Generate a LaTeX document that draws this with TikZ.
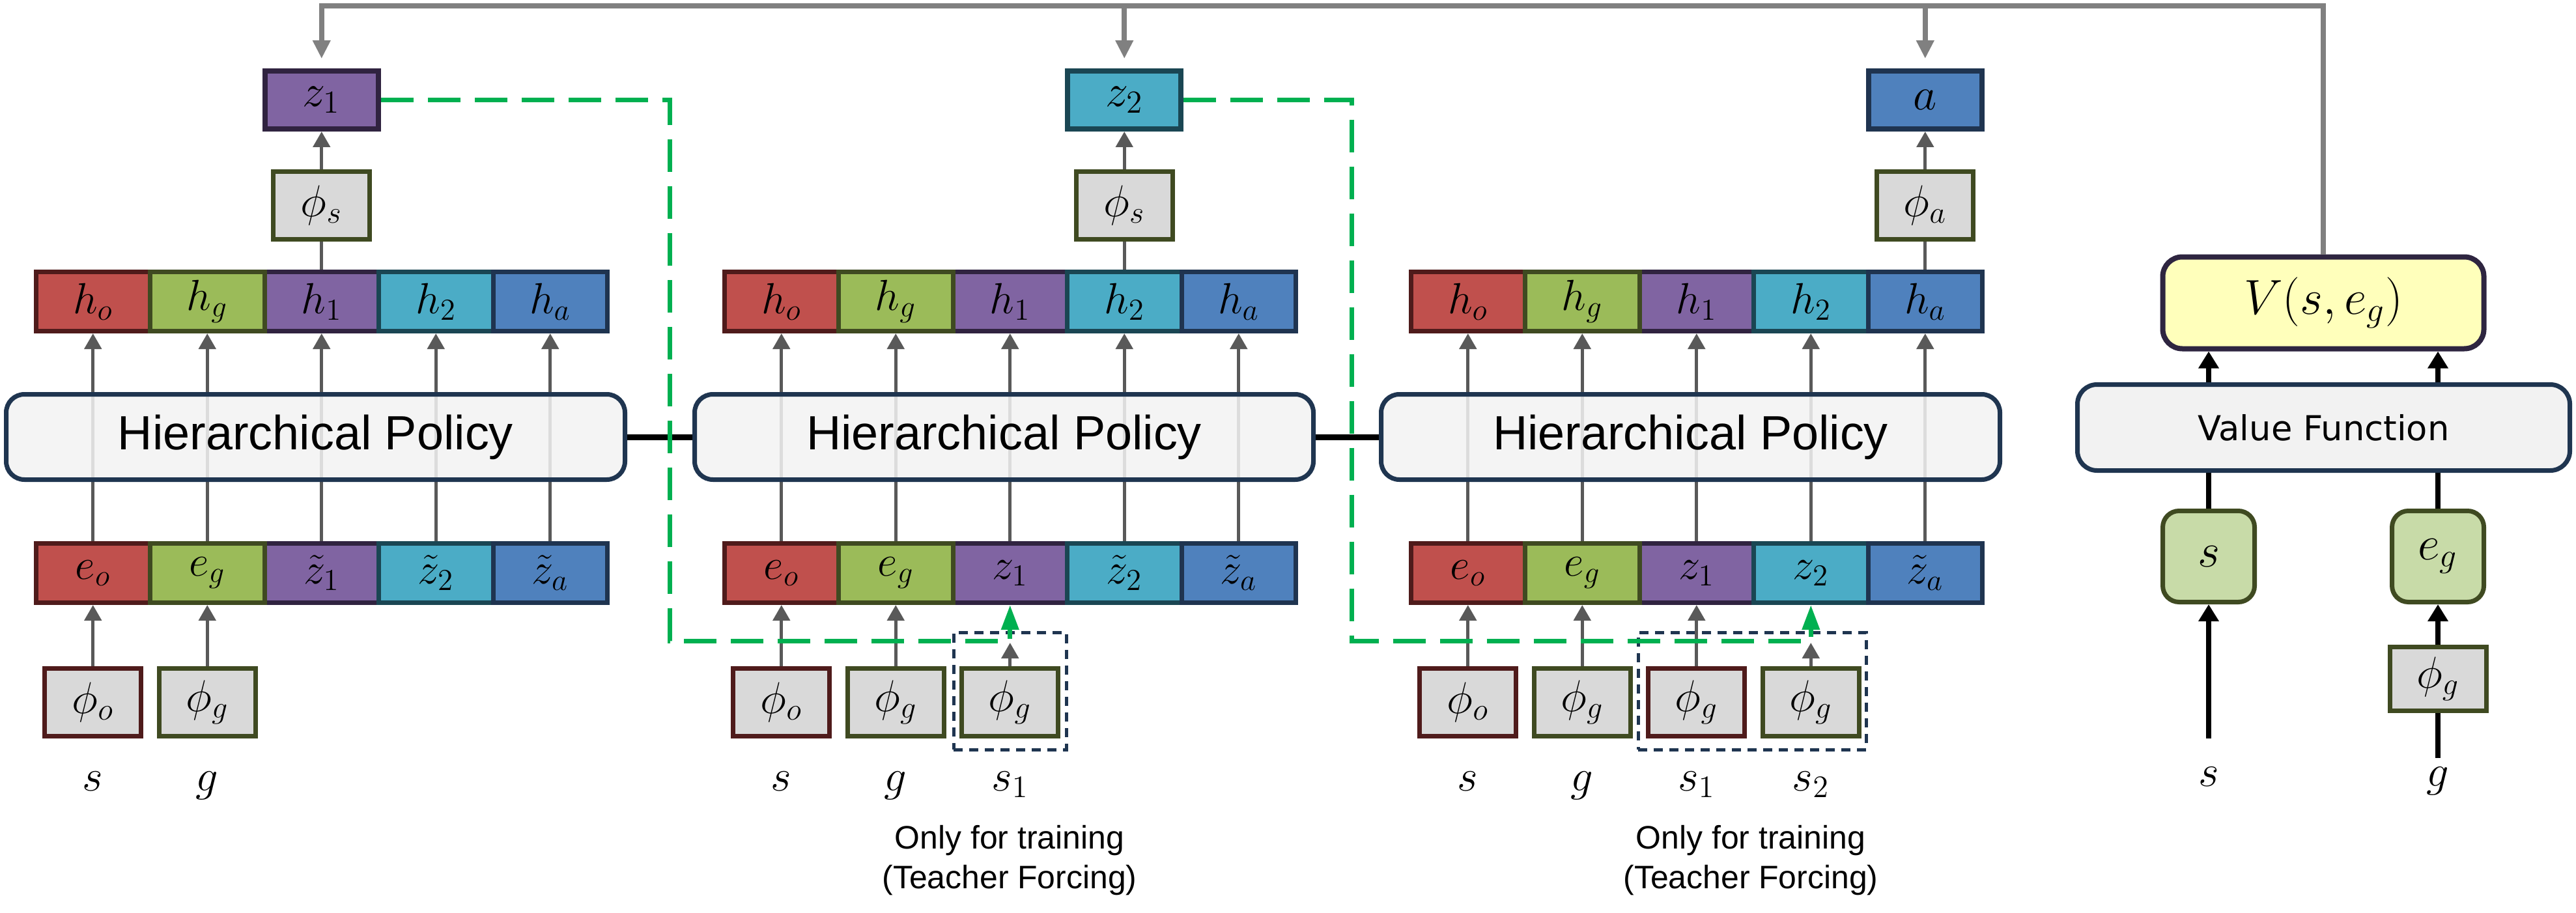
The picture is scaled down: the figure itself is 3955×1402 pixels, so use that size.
\RequirePackage{fix-cm}
\documentclass[tikz,border=0pt]{standalone}
\usepackage[no-math]{fontspec}
\newfontfamily\hpfont{Liberation Sans}
\newfontfamily\vffont{DejaVu Sans}
\usetikzlibrary{arrows.meta}
\definecolor{fred}{HTML}{C0504D}\definecolor{bred}{HTML}{4F1B1B}
\definecolor{fgrn}{HTML}{9BBB59}\definecolor{bgrn}{HTML}{3F4A21}
\definecolor{fpur}{HTML}{8064A2}\definecolor{bpur}{HTML}{302340}
\definecolor{ftea}{HTML}{4BACC6}\definecolor{btea}{HTML}{1A4653}
\definecolor{fblu}{HTML}{4F81BD}\definecolor{bblu}{HTML}{1F3450}
\definecolor{phifill}{HTML}{D9D9D9}
\definecolor{hpfill}{HTML}{F2F2F2}\definecolor{bnavy}{HTML}{1F3550}
\definecolor{vyel}{HTML}{FFFFBB}\definecolor{vbord}{HTML}{2E2540}
\definecolor{sfill}{HTML}{C8DBA8}
\definecolor{arrgray}{HTML}{595959}\definecolor{routegray}{HTML}{808080}
\definecolor{gdash}{HTML}{00B050}
\newcommand\myrow[8]{%
 \node[cell,fill=fpur,draw=bpur] (#1c) at ({#2+438.75},#3) {$#6$};
 \node[cell,fill=fred,draw=bred] (#1a) at ({#2+87.75},#3) {$#4$};
 \node[cell,fill=fgrn,draw=bgrn] (#1b) at ({#2+263.25},#3) {$#5$};
 \node[cell,fill=ftea,draw=btea] (#1d) at ({#2+614.25},#3) {$#7$};
 \node[cell,fill=fblu,draw=bblu] (#1e) at ({#2+789.75},#3) {$#8$};}
\begin{document}
\begin{tikzpicture}[x=0.1mm,y=-0.1mm,
  cell/.style={rectangle,inner sep=0pt,minimum width=17.55mm,minimum height=9.1mm,line width=0.7mm,font=\fontsize{19}{21}\selectfont},
  zbox/.style={rectangle,inner sep=0pt,minimum width=17.4mm,minimum height=8.9mm,line width=0.8mm,font=\fontsize{20}{22}\selectfont},
  phibox/.style={rectangle,inner sep=0pt,minimum width=14.8mm,minimum height=10.4mm,line width=0.7mm,fill=phifill,font=\fontsize{19.5}{22}\selectfont},
  hp/.style={rectangle,rounded corners=2.8mm,minimum width=95mm,minimum height=13.1mm,line width=0.7mm,draw=bnavy,fill=hpfill,fill opacity=0.86,text opacity=1,font=\hpfont\fontsize{21}{24}\selectfont},
  lab/.style={anchor=base,inner sep=0pt,font=\fontsize{19.5}{21}\selectfont},
  note/.style={align=center,inner sep=0pt,font=\hpfont\fontsize{14.2}{17.4}\selectfont},
  tfbox/.style={rectangle,draw=bnavy,line width=0.5mm,dash pattern=on 1.4mm off 1mm},
  garrow/.style={draw=arrgray,line width=0.5mm,-{Triangle[length=2.4mm,width=2.6mm]}},
  gline/.style={draw=arrgray,line width=0.5mm},
  route/.style={draw=routegray,line width=0.8mm,-{Triangle[length=2.8mm,width=2.6mm]},shorten >=1.5mm},
  gd/.style={draw=gdash,line width=0.7mm,dash pattern=on 5mm off 2.2mm,-{Triangle[length=3.8mm,width=2.6mm]}},
  blk/.style={draw=black,line width=0.9mm},
  barrow/.style={draw=black,line width=0.8mm,-{Triangle[length=2.6mm,width=3mm]}},
  bline/.style={draw=black,line width=0.8mm}]
\useasboundingbox (0,0) rectangle (3955,1402);

% rows
\myrow{h1}{55}{463}{h_o}{h_g}{h_1}{h_2}{h_a}
\myrow{e1}{55}{880}{e_o}{e_g}{\tilde z_1}{\tilde z_2}{\tilde z_a}
\myrow{h2}{1112}{463}{h_o}{h_g}{h_1}{h_2}{h_a}
\myrow{e2}{1112}{880}{e_o}{e_g}{z_1}{\tilde z_2}{\tilde z_a}
\myrow{h3}{2166}{463}{h_o}{h_g}{h_1}{h_2}{h_a}
\myrow{e3}{2166}{880}{e_o}{e_g}{z_1}{z_2}{\tilde z_a}

\foreach \c in {1,2,3}{\foreach \k in {a,b,c,d,e}{\draw[garrow] (e\c\k.north) -- (h\c\k.south);}}

% hierarchical policy boxes
\node[hp] (hp1) at (484.5,671) {Hierarchical Policy};
\node[hp] (hp2) at (1541.5,671) {Hierarchical Policy};
\node[hp] (hp3) at (2595.5,671) {Hierarchical Policy};
\draw[blk] (hp1.east) -- (hp2.west);
\draw[blk] (hp2.east) -- (hp3.west);

% upper heads
\node[phibox,draw=bgrn] (ps1) at (493.75,315.5) {$\phi_s$};
\node[phibox,draw=bgrn] (ps2) at (1726.25,315.5) {$\phi_s$};
\node[phibox,draw=bgrn] (pa3) at (2955.75,315.5) {$\phi_a$};
\node[zbox,fill=fpur,draw=bpur] (z1) at (493.75,153.5) {$z_1$};
\node[zbox,fill=ftea,draw=btea] (z2) at (1726.25,153.5) {$z_2$};
\node[zbox,fill=fblu,draw=bblu] (za) at (2955.75,153.5) {$a$};
\draw[gline] (h1c.north) -- (ps1.south);
\draw[gline] (h2d.north) -- (ps2.south);
\draw[gline] (h3e.north) -- (pa3.south);
\draw[garrow] (ps1.north) -- (z1.south);
\draw[garrow] (ps2.north) -- (z2.south);
\draw[garrow] (pa3.north) -- (za.south);

% inputs column 1
\node[phibox,draw=bred] (p1a) at (142.75,1078.5) {$\phi_o$};
\node[phibox,draw=bgrn] (p1b) at (318.25,1078.5) {$\phi_g$};
\node[lab] (l1a) at (142.75,1214) {$s$};
\node[lab] (l1b) at (318.25,1214) {$g$};
\draw[garrow] (p1a.north) -- (e1a.south);
\draw[garrow] (p1b.north) -- (e1b.south);

% inputs column 2
\node[tfbox,minimum width=17.3mm,minimum height=18mm] (tf2) at (1550.5,1061) {};
\node[phibox,draw=bred] (p2a) at (1199.75,1078.5) {$\phi_o$};
\node[phibox,draw=bgrn] (p2b) at (1375.25,1078.5) {$\phi_g$};
\node[phibox,draw=bgrn] (p2c) at (1550.75,1078.5) {$\phi_g$};
\node[lab] (l2a) at (1199.75,1214) {$s$};
\node[lab] (l2b) at (1375.25,1214) {$g$};
\node[lab] (l2c) at (1550.75,1214) {$s_1$};
\node[note] (n2) at (1550,1321) {Only for training\\(Teacher Forcing)};
\draw[garrow] (p2a.north) -- (e2a.south);
\draw[garrow] (p2b.north) -- (e2b.south);

% inputs column 3
\node[tfbox,minimum width=35mm,minimum height=18mm] (tf3) at (2690,1061) {};
\node[phibox,draw=bred] (p3a) at (2253.75,1078.5) {$\phi_o$};
\node[phibox,draw=bgrn] (p3b) at (2429.25,1078.5) {$\phi_g$};
\node[phibox,draw=bred] (p3c) at (2604.75,1078.5) {$\phi_g$};
\node[phibox,draw=bgrn] (p3d) at (2780.25,1078.5) {$\phi_g$};
\node[lab] (l3a) at (2253.75,1214) {$s$};
\node[lab] (l3b) at (2429.25,1214) {$g$};
\node[lab] (l3c) at (2604.75,1214) {$s_1$};
\node[lab] (l3d) at (2780.25,1214) {$s_2$};
\node[note] (n3) at (2688,1321) {Only for training\\(Teacher Forcing)};
\draw[garrow] (p3a.north) -- (e3a.south);
\draw[garrow] (p3b.north) -- (e3b.south);
\draw[garrow] (p3c.north) -- (e3c.south);

% green teacher-forcing routes
\coordinate (r1a) at (1028,153.5);
\coordinate (r1b) at (1028,984);
\coordinate (r2a) at (2075,153.5);
\coordinate (r2b) at (2075,984);
\draw[gd] (z1.east) -- (r1a) -- (r1b) -- (r1b -| e2c.south) -- (e2c.south);
\draw[gd] (z2.east) -- (r2a) -- (r2b) -- (r2b -| e3d.south) -- (e3d.south);
\draw[garrow,shorten >=0.3mm] (p2c.north) -- (p2c.north |- r1b);
\draw[garrow,shorten >=0.3mm] (p3d.north) -- (p3d.north |- r2b);

% value function
\node[rectangle,rounded corners=3mm,minimum width=49.3mm,minimum height=14.1mm,line width=0.8mm,draw=vbord,fill=vyel,font=\fontsize{21.5}{23}\selectfont] (V) at (3567,465) {$V(s,e_g)$};
\node[rectangle,rounded corners=3mm,minimum width=75.6mm,minimum height=13.2mm,line width=0.7mm,draw=bnavy,fill=hpfill,font=\vffont\fontsize{15}{18}\selectfont] (VF) at (3567.5,656.5) {Value Function};
\node[rectangle,rounded corners=2.5mm,minimum width=14.1mm,minimum height=14mm,line width=0.7mm,draw=bgrn,fill=sfill,font=\fontsize{21}{23}\selectfont] (sb) at (3391,854.5) {$s$};
\node[rectangle,rounded corners=2.5mm,minimum width=14.1mm,minimum height=14mm,line width=0.7mm,draw=bgrn,fill=sfill,font=\fontsize{21}{23}\selectfont] (eb) at (3743,854.5) {$e_g$};
\node[phibox,draw=bgrn,minimum height=9.8mm] (p4) at (3743,1042.5) {$\phi_g$};
\node[lab] (l4a) at (3391,1207) {$s$};
\node[lab] (l4b) at (3743,1207) {$g$};
\draw[barrow] (sb.north |- VF.north) -- (sb.north |- V.south);
\draw[barrow] (eb.north |- VF.north) -- (eb.north |- V.south);
\draw[bline] (sb.north) -- (sb.north |- VF.south);
\draw[bline] (eb.north) -- (eb.north |- VF.south);
\draw[barrow,shorten <=4.3mm] (l4a.north) -- (sb.south);
\draw[barrow] (p4.north) -- (eb.south);
\draw[bline,shorten <=1.3mm] (l4b.north) -- (p4.south);

% top routing of the value
\coordinate (top) at (0,9);
\draw[route] (V.north) -- (V.north |- top) -- (z1.north |- top) -- (z1.north);
\draw[route] (z2.north |- top) -- (z2.north);
\draw[route] (za.north |- top) -- (za.north);
\end{tikzpicture}
\end{document}
